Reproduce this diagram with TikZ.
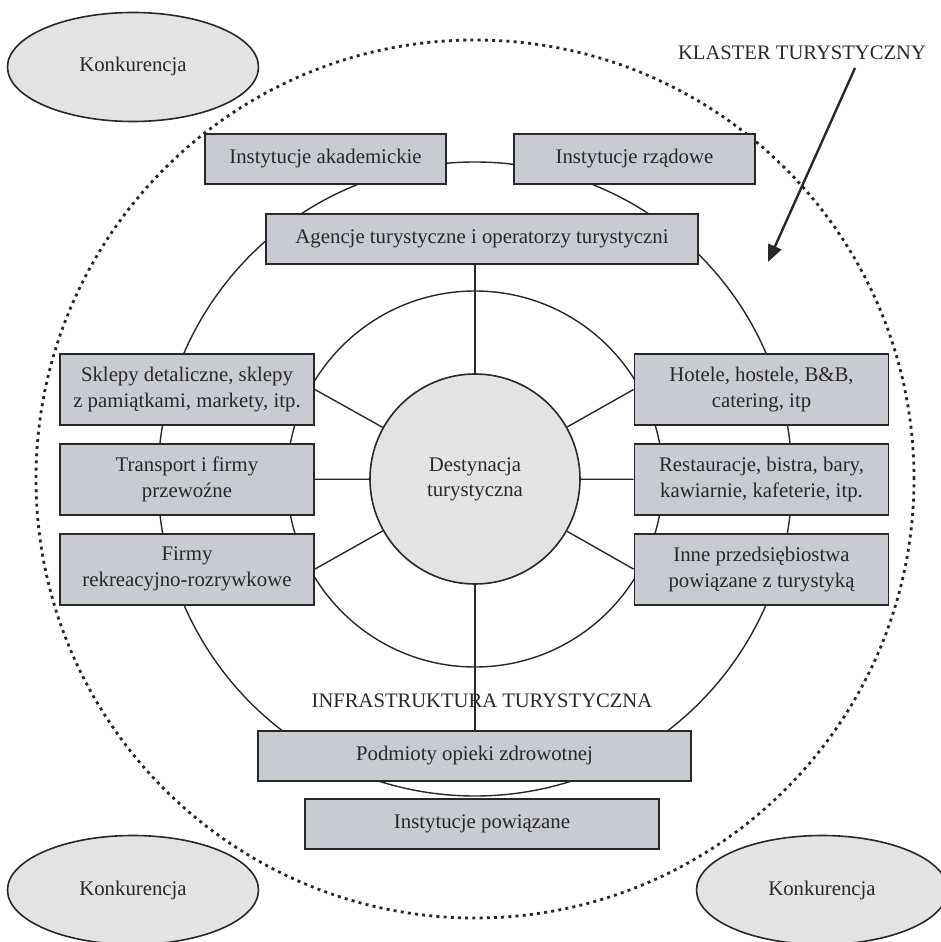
\documentclass[tikz,border=0pt]{standalone}
\usepackage{fontspec}
\setmainfont{Liberation Serif}
\usepackage{tikz}
\usetikzlibrary{positioning,arrows.meta,shapes.geometric}
\definecolor{boxgray}{RGB}{201,203,210}
\definecolor{softgray}{RGB}{227,227,230}
\definecolor{inkgray}{RGB}{40,40,40}
\tikzset{
  unit/.style={rectangle, draw=inkgray, fill=boxgray, line width=0.9pt, minimum width=127pt,
               minimum height=35.5pt, inner sep=1pt, align=center, text=inkgray,
               font=\fontsize{10.4pt}{13pt}\selectfont},
  flatunit/.style={unit, minimum height=25pt},
  comp/.style={ellipse, draw=inkgray, fill=softgray, line width=0.8pt, minimum width=125.5pt,
               minimum height=54.5pt, inner sep=0pt, text=inkgray, font=\fontsize{10.4pt}{13pt}\selectfont},
  ring/.style={draw=inkgray, line width=0.7pt},
  spoke/.style={draw=inkgray, line width=0.7pt},
  pointer/.style={-{Triangle[length=8.5pt,width=7pt]}, line width=1.2pt, inkgray},
  lbl/.style={text=inkgray, font=\fontsize{10.3pt}{12pt}\selectfont}
}

\begin{document}
\begin{tikzpicture}[x=0.5pt, y=0.5pt]
    \useasboundingbox (-475,479) rectangle (466,-463);
    \draw[ring] (0,0) circle[radius=188];
    \draw[ring] (0,0) circle[radius=317];
    \draw[inkgray, line width=1.4pt, dash pattern=on 1.5pt off 2.1pt] (0,0) circle[radius=439];
    \node[circle, draw=inkgray, fill=softgray, line width=0.8pt, minimum size=105pt, inner sep=0pt,
          align=center, text=inkgray, font=\fontsize{10.4pt}{12.5pt}\selectfont] (dest) at (0,0) {Destynacja\\turystyczna};
    \node[flatunit, minimum width=120.5pt] (akad) at (-149.5,320) {Instytucje akademickie};
    \node[flatunit, minimum width=120.5pt] (rzad) at (159.5,320) {Instytucje rządowe};
    \node[flatunit, minimum width=216pt] (agencje) at (7,240) {Agencje turystyczne i operatorzy turystyczni};
    \node[unit] (sklepy) at (-288,89.5) {Sklepy detaliczne, sklepy\\z pamiątkami, markety, itp.};
    \node[unit, below=8.5pt of sklepy] (transport) {Transport i firmy\\przewoźne};
    \node[unit, below=8.5pt of transport] (firmy) {Firmy\\rekreacyjno-rozrywkowe};
    \node[unit] (hotele) at (286.5,89.5) {Hotele, hostele, B\&B,\\catering, itp};
    \node[unit, below=8.5pt of hotele] (restauracje) {Restauracje, bistra, bary,\\kawiarnie, kafeterie, itp.};
    \node[unit, below=8.5pt of restauracje] (inne) {Inne przedsiębiostwa\\powiązane z turystyką};
    \node[flatunit, minimum width=216.5pt] (podmioty) at (-0.5,-277) {Podmioty opieki zdrowotnej};
    \node[flatunit, minimum width=177pt] (powiazane) at (7,-345) {Instytucje powiązane};
    \draw[spoke] (dest) -- (sklepy.east); \draw[spoke] (dest) -- (transport.east); \draw[spoke] (dest) -- (firmy.east);
    \draw[spoke] (dest) -- (hotele.west); \draw[spoke] (dest) -- (restauracje.west); \draw[spoke] (dest) -- (inne.west);
    \draw[spoke] (dest.north) -- (dest.north |- agencje.south);
    \draw[spoke] (dest.south) -- (dest.south |- podmioty.north);
    \node[lbl] (infra) at (7,-222) {INFRASTRUKTURA TURYSTYCZNA};
    \node[lbl] (klaster) at (327,426) {KLASTER TURYSTYCZNY};
    \coordinate (tail) at (380,411);
    \coordinate (target) at (293,217);
    \draw[pointer] (tail) -- (target);
    \node[comp] (konk1) at (-342,412) {Konkurencja};
    \node[comp] (konk2) at (-342,-411) {Konkurencja};
    \node[comp] (konk3) at (347,-411) {Konkurencja};
  \end{tikzpicture}
\end{document}
